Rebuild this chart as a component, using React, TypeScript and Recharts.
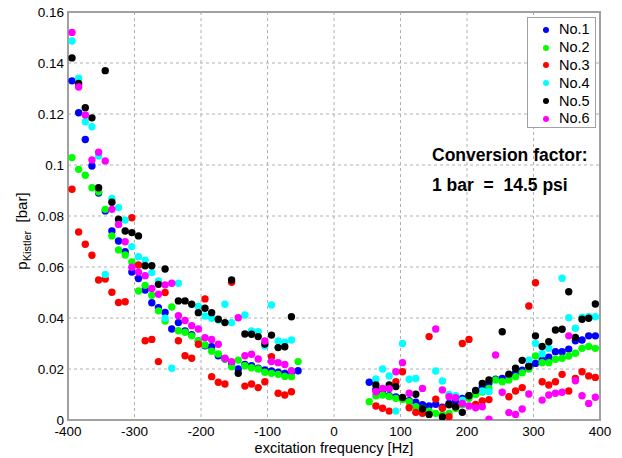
import React from 'react';
import { ScatterChart, Scatter, XAxis, YAxis, CartesianGrid, ReferenceArea } from 'recharts';

const freqL = [-394,-384,-374,-364,-354,-344,-334,-324,-314,-304,-294,-284,-274,-264,-254,-244,-234,-224,-214,-204,-194,-184,-174,-164,-154,-144,-134,-124,-114,-104,-94,-84,-74,-64,-54];
const freqR = [53,63,73,83,93,103,113,123,133,143,153,163,173,183,193,203,213,223,233,243,253,263,273,283,293,303,313,323,333,343,353,363,373,383,393];

const no1L = [0.133,0.1205,0.110,0.0996,0.089,0.082,0.0741,0.0702,0.066,0.058,0.0555,0.051,0.046,0.044,0.0422,0.0357,0.0382,0.0349,0.0335,0.031,0.0291,0.0287,0.0252,0.0239,0.022,0.020,0.0218,0.0213,0.0203,0.0196,0.0192,0.0187,0.0183,0.0187,0.0193];
const no2L = [0.1029,0.0983,0.096,0.0911,0.0895,0.0826,0.0722,0.0667,0.0647,0.062,0.0506,0.0528,0.0489,0.0428,0.0388,0.0443,0.035,0.0344,0.033,0.031,0.0294,0.027,0.0259,0.0239,0.0209,0.0235,0.0213,0.0205,0.020,0.0187,0.0183,0.0179,0.0171,0.017,0.0229];
const no3L = [0.0905,0.0737,0.0689,0.0646,0.0549,0.0553,0.0501,0.0461,0.0464,0.0793,0.0608,0.0311,0.0316,0.0229,0.050,null,0.0311,0.0252,0.0242,0.0297,0.0475,0.017,0.0148,0.0141,0.054,null,0.0133,0.0141,0.0127,0.015,0.0248,0.0105,0.0098,0.0111,null];
const no4L = [0.1486,0.134,0.117,0.115,0.1035,0.0571,0.0869,0.0833,0.0784,0.068,0.064,0.0627,0.0578,0.0545,0.0399,0.0203,0.0536,null,null,0.0445,0.0408,0.0399,0.0392,0.0454,0.0382,null,0.0412,0.0349,0.0346,0.029,0.0451,0.031,0.0305,0.0314,null];
const no5L = [0.142,0.132,0.1225,0.1185,0.0911,0.137,0.0854,0.0787,0.0741,0.0735,0.0722,0.0605,0.0605,0.0532,0.0592,null,0.0467,0.0467,0.0454,0.0421,0.0438,0.0421,0.0395,0.0382,0.0549,0.0183,0.0337,0.0336,0.0327,0.0298,0.0333,0.0284,0.0287,0.0405,null];
const no6L = [0.152,0.1306,0.1196,0.102,0.105,0.1016,0.0826,0.0767,0.0699,0.0599,0.058,0.0566,0.0516,0.0493,0.053,0.0536,0.0409,0.039,0.037,0.0357,0.0323,0.0316,0.0297,0.0242,0.0229,0.0401,0.0252,0.0258,0.0239,0.031,0.0229,0.0225,0.0218,0.0193,null];

const no1R = [0.0148,0.012,0.0105,0.0095,0.009,0.0085,0.0076,0.007,0.006,0.0055,0.0062,0.005,0.0065,0.0075,0.0085,0.0095,0.011,0.013,0.0145,0.016,0.0163,0.0175,0.0185,0.0195,0.0212,0.0222,0.0235,0.0246,0.0268,0.0268,0.0278,0.0311,0.0314,0.033,0.033];
const no2R = [0.0072,0.0095,0.0098,0.0092,0.0085,0.008,0.0072,0.0052,0.0045,0.0035,0.0026,0.002,0.0026,0.0045,0.006,0.0085,0.01,0.011,0.0124,0.0157,0.015,0.0157,0.017,0.0185,0.02,0.0251,0.0225,0.0225,0.0238,0.0242,0.0251,0.0262,0.0281,0.0288,0.0281];
const no3R = [null,0.0055,0.0046,0.0035,0.015,0.0189,0.0048,0.003,0.0026,0.0327,0.0082,0.0046,0.0013,0.0052,0.030,0.0316,0.0061,0.0075,0.008,null,null,0.0091,0.0114,0.0127,0.0447,0.0538,0.015,0.0137,0.015,0.0179,0.0114,0.0163,0.0189,0.0173,0.0167];
const no4R = [null,0.0161,0.020,0.0173,0.0035,0.030,0.016,0.0163,null,null,0.0192,0.0153,0.010,0.0095,0.0078,null,null,0.0114,0.0111,null,null,null,null,null,0.0235,0.030,0.026,0.0281,null,0.0556,0.0401,0.036,0.0403,0.0405,0.0405];
const no5R = [null,0.0137,null,0.0137,0.0131,0.0088,null,0.0101,0.0044,0.0022,null,0.0012,0.006,0.0052,0.003,0.0095,0.0116,0.0143,0.0157,null,0.0346,0.018,0.0203,0.0234,0.021,0.033,0.0288,0.0307,0.0353,0.0356,0.0503,0.0324,0.0395,0.0399,0.0455];
const no6R = [null,0.0111,0.0124,0.0123,0.0189,0.0225,0.0105,null,0.0124,null,0.0357,0.0118,0.0091,0.0087,0.0065,0.0055,0.0048,0.0052,0.0003,0.0255,0.0109,0.0029,0.0022,0.0043,0.0102,null,0.0078,0.0098,0.0105,0.0109,0.033,0.0154,0.0095,0.0065,0.0089];

const seriesNames = ['No.1','No.2','No.3','No.4','No.5','No.6'];
const seriesColors = ['#0000ff','#00ff00','#ff0000','#00ffff','#000000','#ff00ff'];
const xTicks = [-400,-300,-200,-100,0,100,200,300,400];
const yTicks = [0,0.02,0.04,0.06,0.08,0.1,0.12,0.14,0.16];

const FONT = '"Liberation Sans", Arial, Helvetica, sans-serif';

function build(left: (number|null)[], right: (number|null)[]) {
  const pts: {x:number;y:number}[] = [];
  freqL.forEach((f, i) => { const v = left[i]; if (v != null) pts.push({ x: f, y: v }); });
  freqR.forEach((f, i) => { const v = right[i]; if (v != null) pts.push({ x: f, y: v }); });
  return pts;
}

const seriesData = [
  build(no1L, no1R), build(no2L, no2R), build(no3L, no3R),
  build(no4L, no4R), build(no5L, no5R), build(no6L, no6R),
];

const makeDot = (color: string) => (props: any) => (
  <circle cx={props.cx} cy={props.cy} r={3.7} fill={color} stroke="none" />
);

const YLabel = () => {
  const cx = 27, cy = 231;
  return (
    <text transform={`rotate(-90, ${cx}, ${cy})`} x={cx} y={cy} textAnchor="middle" fontSize={15} fontFamily={FONT} fill="#000">
      <tspan>p</tspan>
      <tspan fontSize={11} dy={4}>Kistler</tspan>
      <tspan dy={-4} fontSize={15} style={{ whiteSpace: 'pre' }}>{'  [bar]'}</tspan>
    </text>
  );
};

const LegendBox = () => (
  <div style={{ position: 'absolute', top: 17, left: 527, border: '1px solid #a0a0a0', background: '#fff', width: 69, height: 111, boxSizing: 'border-box', padding: '3px 0 0 0', fontFamily: FONT }}>
    {seriesNames.map((n, i) => (
      <div key={n} style={{ display: 'flex', alignItems: 'center', height: 17.8 }}>
        <svg width={31} height={12}><circle cx={18} cy={6} r={3} fill={seriesColors[i]} /></svg>
        <span style={{ fontSize: 14.5, lineHeight: '17px' }}>{n}</span>
      </div>
    ))}
  </div>
);

export default function App() {
  return (
    <div style={{ position: 'absolute', left: 0, top: 0, width: 622, height: 458, background: '#fff', fontFamily: FONT }}>
      <ScatterChart width={622} height={458} margin={{ top: 12, right: 22, bottom: 8, left: 8 }}>
        <CartesianGrid stroke="#b0b0b0" strokeDasharray="3 3" />
        <XAxis type="number" dataKey="x" domain={[-400, 400]} ticks={xTicks} allowDataOverflow
          tick={{ fontSize: 13.5, fill: '#000', fontFamily: FONT }} tickLine={false} tickSize={4}
          axisLine={{ stroke: '#a0a0a0', strokeWidth: 2 }} height={30}
          tickFormatter={(v: number) => String(v)} />
        <YAxis type="number" dataKey="y" domain={[0, 0.16]} ticks={yTicks} allowDataOverflow
          tick={{ fontSize: 13.5, fill: '#000', fontFamily: FONT }} tickLine={false} tickSize={2}
          axisLine={{ stroke: '#a0a0a0', strokeWidth: 2 }} width={60}
          tickFormatter={(v: number) => String(Number(v.toFixed(2)))}
          label={<YLabel />} />
        <ReferenceArea x1={-400} x2={400} y1={0} y2={0.16} fill="none" stroke="#a0a0a0" strokeWidth={2} />
        {seriesData.map((d, i) => (
          <Scatter key={seriesNames[i]} name={seriesNames[i]} data={d} fill={seriesColors[i]}
            shape={makeDot(seriesColors[i])} isAnimationActive={false} />
        ))}
      </ScatterChart>
      <LegendBox />
      <div style={{ position: 'absolute', left: 432, top: 145, fontSize: 17.5, fontWeight: 'bold', whiteSpace: 'pre', color: '#000' }}>Conversion factor:</div>
      <div style={{ position: 'absolute', left: 432, top: 175, fontSize: 17.5, fontWeight: 'bold', whiteSpace: 'pre', color: '#000' }}>{'1 bar  =  14.5 psi'}</div>
      <div style={{ position: 'absolute', left: 0, width: 668, top: 440, textAlign: 'center', fontSize: 14.5, color: '#000' }}>excitation frequency [Hz]</div>
    </div>
  );
}
